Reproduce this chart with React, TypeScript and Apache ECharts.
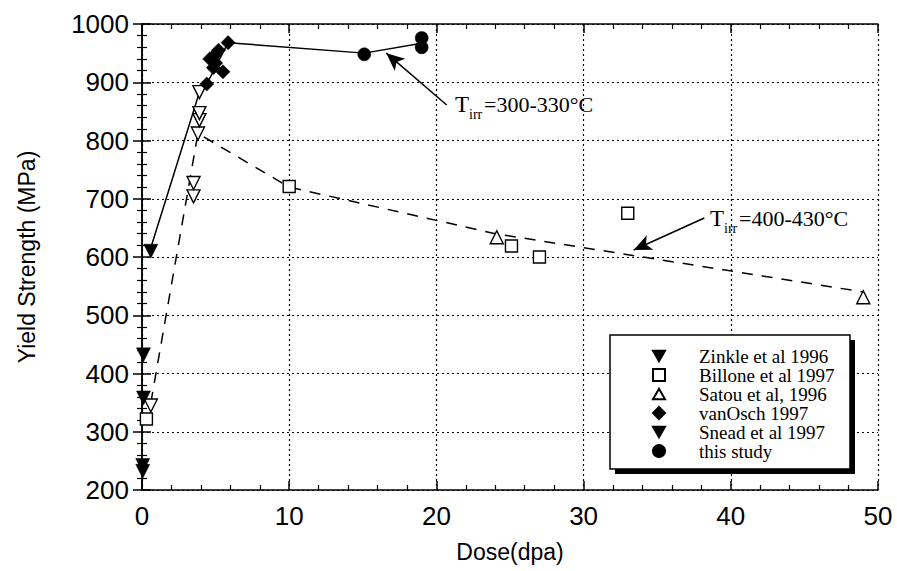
import React, { useEffect, useRef } from "react";
import * as echarts from "echarts";

// ---- data (dose in dpa, yield strength in MPa) ----
const xTicks = [0, 10, 20, 30, 40, 50];
const yTicks = [200, 300, 400, 500, 600, 700, 800, 900, 1000];

const zinkle1996 = [[0.1, 432], [0.1, 358], [0.6, 610]];
const billone1997 = [[0.3, 322], [10, 721], [25.1, 619], [27, 600], [33, 675]];
const satou1996 = [[24.1, 634], [49, 531]];
const vanOsch1997 = [[4.4, 897], [4.6, 940], [4.9, 946], [5.2, 955], [5.85, 968], [4.85, 925], [5.5, 918], [5.0, 933]];
const snead1997 = [[0.05, 242], [0.05, 232]];
const thisStudy = [[15.1, 948], [19, 976], [19, 960]];
const openDownTriangles = [[0.6, 345], [3.5, 704], [3.5, 727], [3.8, 812], [3.9, 835], [3.9, 847], [3.9, 883]];
const trend300 = [[0.55, 612], [3.9, 883], [4.4, 897], [5.85, 968], [15.1, 950], [19, 967]];
const trend400 = [[0.6, 350], [3.8, 812], [10, 720], [24, 640], [49, 540]];
const arrow300 = [[20.7, 861], [16.6, 950]];
const arrow400 = [[38.2, 667], [33.4, 612]];

const legendNames = ["Zinkle et al 1996", "Billone et al 1997", "Satou et al, 1996", "vanOsch 1997", "Snead et al 1997", "this study"];

const DOWN_TRI = "path://M0,0L12,0L6,10.4Z";
const UP_TRI = "path://M6,0L12,10.4L0,10.4Z";
const DIAMOND = "path://M5,0L10,5L5,10L0,5Z";

export default function App() {
  const ref = useRef<HTMLDivElement>(null);
  useEffect(() => {
    const chart = echarts.init(ref.current!, null, { renderer: "svg" });
    const sans = "Liberation Sans, Arial, sans-serif";
    const serif = "Liberation Serif, Times New Roman, serif";
    const xCommon = {
      type: "value",
      min: xTicks[0],
      max: xTicks[xTicks.length - 1],
      interval: 10,
      axisLine: { show: true, lineStyle: { color: "#000", width: 1.5 } },
      axisTick: { show: true, inside: true, length: 9, lineStyle: { color: "#000", width: 1.5 } },
      minorTick: { show: true, splitNumber: 5, length: 5, lineStyle: { color: "#000", width: 1.2 } },
    };
    const yCommon = {
      type: "value",
      min: yTicks[0],
      max: yTicks[yTicks.length - 1],
      interval: 100,
      axisLine: { show: true, lineStyle: { color: "#000", width: 1.5 } },
      axisTick: { show: true, inside: true, length: 9, lineStyle: { color: "#000", width: 1.5 } },
      minorTick: { show: true, splitNumber: 5, length: 5, lineStyle: { color: "#000", width: 1.2 } },
    };
    const scatter = (name: string, data: number[][], symbol: string, size: number, rotate: number, filled: boolean) => ({
      name,
      type: "scatter",
      data,
      symbol,
      symbolSize: size,
      symbolRotate: rotate,
      z: 5,
      itemStyle: filled
        ? { color: "#000", borderColor: "#000", borderWidth: 0.5, opacity: 1 }
        : { color: "#fff", borderColor: "#000", borderWidth: 1.4, opacity: 1 },
    });
    chart.setOption({
      animation: false,
      backgroundColor: "#fff",
      grid: { left: 142, right: 19, top: 24, bottom: 81, containLabel: false },
      xAxis: [
        {
          ...xCommon,
          name: "Dose(dpa)",
          nameLocation: "middle",
          nameGap: 50,
          nameTextStyle: { fontFamily: sans, fontSize: 23, color: "#000" },
          axisLabel: { show: true, margin: 13, fontFamily: sans, fontSize: 26, color: "#000", formatter: (v: number) => String(v) },
          splitLine: { show: true, lineStyle: { color: "#000", type: [2, 3], width: 1.2 } },
        },
        {
          ...xCommon,
          position: "top",
          axisLabel: { show: false },
          splitLine: { show: false },
        },
      ],
      yAxis: [
        {
          ...yCommon,
          name: "Yield Strength (MPa)",
          nameLocation: "middle",
          nameGap: 104,
          nameTextStyle: { fontFamily: sans, fontSize: 23, color: "#000" },
          axisLabel: { show: true, margin: 13, fontFamily: sans, fontSize: 26, color: "#000", formatter: (v: number) => String(v) },
          splitLine: { show: true, lineStyle: { color: "#000", type: [2, 3], width: 1.2 } },
        },
        {
          ...yCommon,
          position: "right",
          axisLabel: { show: false },
          splitLine: { show: false },
        },
      ],
      legend: {
        data: [
          { name: legendNames[0], icon: DOWN_TRI },
          { name: legendNames[1], icon: "rect" },
          { name: legendNames[2], icon: UP_TRI },
          { name: legendNames[3], icon: DIAMOND },
          { name: legendNames[4], icon: DOWN_TRI },
          { name: legendNames[5], icon: "circle" },
        ],
        orient: "vertical",
        left: 652,
        top: 346.5,
        padding: 0,
        itemWidth: 12,
        itemHeight: 12,
        itemGap: 0,
        z: 10,
        selectedMode: false,
        textStyle: { fontFamily: serif, fontSize: 19, color: "#000", lineHeight: 19, padding: [0, 0, 0, 29] },
      },
      graphic: [
        { type: "rect", z: 8, shape: { x: 615, y: 340, width: 240, height: 134 }, style: { fill: "#000" } },
        { type: "rect", z: 9, shape: { x: 610, y: 335, width: 240, height: 134 }, style: { fill: "#fff", stroke: "#000", lineWidth: 1.5 } },
        { type: "text", z: 9, x: 455, y: 104, style: { text: "T", fontFamily: serif, fontSize: 23, fill: "#000", verticalAlign: "middle" } },
        { type: "text", z: 9, x: 469, y: 114, style: { text: "irr", fontFamily: serif, fontSize: 14, fill: "#000", verticalAlign: "middle" } },
        { type: "text", z: 9, x: 484, y: 104, style: { text: "=300-330°C", fontFamily: serif, fontSize: 22, fill: "#000", verticalAlign: "middle" } },
        { type: "text", z: 9, x: 710, y: 218, style: { text: "T", fontFamily: serif, fontSize: 23, fill: "#000", verticalAlign: "middle" } },
        { type: "text", z: 9, x: 724, y: 228, style: { text: "irr", fontFamily: serif, fontSize: 14, fill: "#000", verticalAlign: "middle" } },
        { type: "text", z: 9, x: 739, y: 218, style: { text: "=400-430°C", fontFamily: serif, fontSize: 22, fill: "#000", verticalAlign: "middle" } },
      ],
      series: [
        {
          name: "trend 300-330",
          type: "line",
          data: trend300,
          symbol: "none",
          z: 3,
          lineStyle: { color: "#000", width: 1.5 },
          markLine: {
            silent: true,
            symbol: ["none", "arrow"],
            symbolSize: [12, 18],
            label: { show: false },
            lineStyle: { color: "#000", width: 1.5, type: "solid" },
            data: [[{ coord: arrow300[0] }, { coord: arrow300[1] }]],
          },
        },
        {
          name: "trend 400-430",
          type: "line",
          data: trend400,
          symbol: "none",
          z: 3,
          lineStyle: { color: "#000", width: 1.5, type: [11, 9] },
          markLine: {
            silent: true,
            symbol: ["none", "arrow"],
            symbolSize: [12, 18],
            label: { show: false },
            lineStyle: { color: "#000", width: 1.5, type: "solid" },
            data: [[{ coord: arrow400[0] }, { coord: arrow400[1] }]],
          },
        },
        scatter("open down triangles", openDownTriangles, "triangle", 13, 180, false),
        scatter(legendNames[0], zinkle1996, "triangle", 14, 180, true),
        scatter(legendNames[1], billone1997, "rect", 12, 0, false),
        scatter(legendNames[2], satou1996, "triangle", 13, 0, false),
        scatter(legendNames[3], vanOsch1997, "rect", 10, 45, true),
        scatter(legendNames[4], snead1997, "triangle", 14, 180, true),
        scatter(legendNames[5], thisStudy, "circle", 13, 0, true),
      ],
    });
    return () => chart.dispose();
  }, []);
  return <div ref={ref} style={{ position: "fixed", left: 0, top: 0, width: 897, height: 571 }} />;
}
